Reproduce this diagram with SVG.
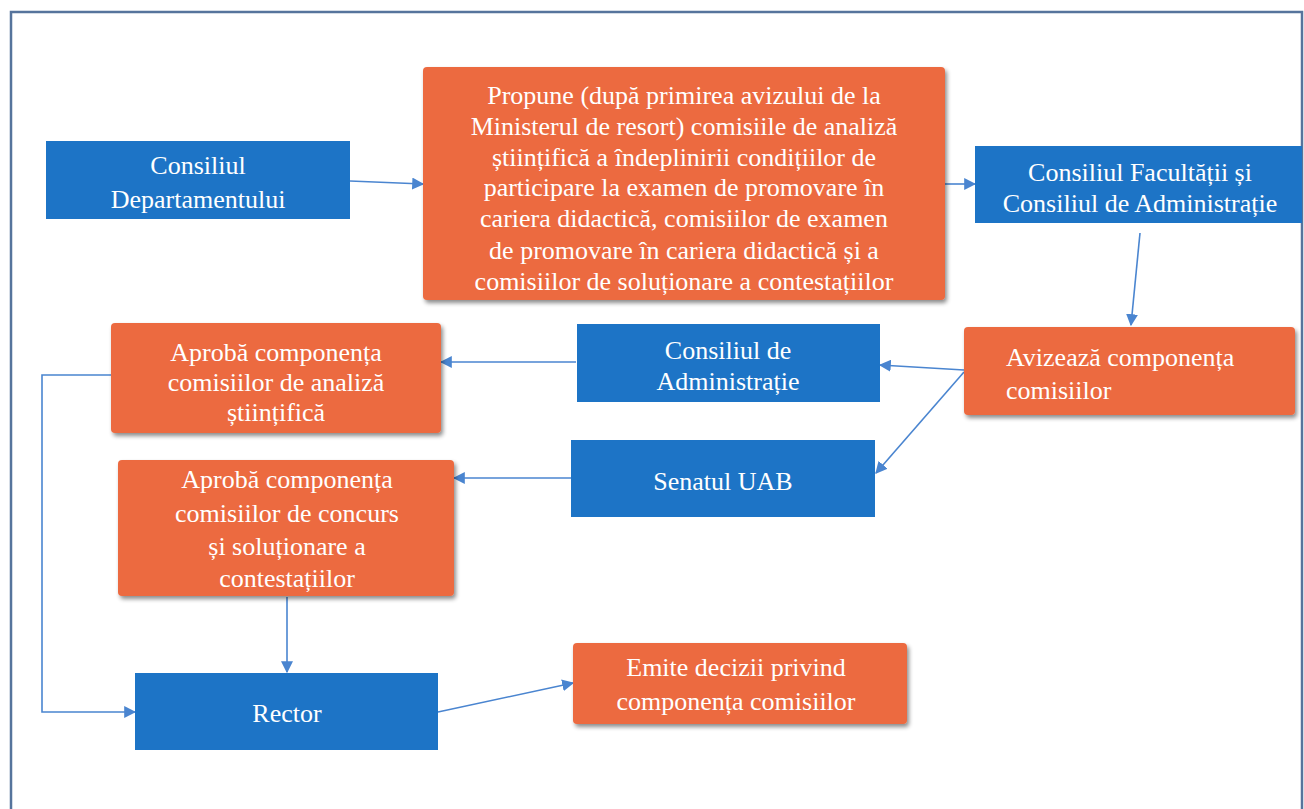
<svg xmlns="http://www.w3.org/2000/svg" width="1304" height="809" viewBox="0 0 1304 809">
<style>
.blue{fill:#1d74c6;}
.orange{fill:#ec6a3f;filter:url(#sh);}
text{font-family:"Liberation Serif","Times New Roman",serif;font-size:26px;fill:#ffffff;}
.c{text-anchor:middle;}
.conn{stroke:#4a85d0;stroke-width:1.6;fill:none;marker-end:url(#ah);}
</style>
<defs>
<filter id="sh" x="-10%" y="-10%" width="120%" height="130%">
<feDropShadow dx="2" dy="3" stdDeviation="2" flood-color="#000" flood-opacity="0.45"/>
</filter>
<marker id="ah" viewBox="0 0 10 10" refX="9" refY="5" markerWidth="12" markerHeight="12" markerUnits="userSpaceOnUse" orient="auto">
<path d="M0,0 L10,5 L0,10 z" fill="#4a85d0"/>
</marker>
</defs>
<rect x="0" y="0" width="1304" height="809" fill="#ffffff"/>
<rect x="11" y="12" width="1291" height="820" fill="none" stroke="#56749c" stroke-width="2.5"/>

<g id="connectors">
<line class="conn" x1="350" y1="181" x2="423" y2="184"/>
<line class="conn" x1="945" y1="184" x2="975" y2="184"/>
<line class="conn" x1="1140" y1="233" x2="1131" y2="325"/>
<line class="conn" x1="964" y1="370" x2="880" y2="365"/>
<line class="conn" x1="964" y1="372" x2="876" y2="473"/>
<line class="conn" x1="576" y1="362" x2="441" y2="362"/>
<line class="conn" x1="571" y1="478" x2="454" y2="478"/>
<line class="conn" x1="287" y1="597" x2="287" y2="672"/>
<polyline class="conn" points="111,375 42,375 42,712 135,712"/>
<line class="conn" x1="438" y1="712" x2="573" y2="683"/>
</g>

<g id="consiliul-departamentului">
<rect class="blue" x="46" y="141" width="304" height="78"/>
<text class="c" x="198" y="174">Consiliul</text>
<text class="c" x="198" y="208">Departamentului</text>
</g>

<g id="propune">
<rect class="orange" x="423" y="67" width="522" height="233" rx="4"/>
<text class="c" x="684" y="104">Propune (după primirea avizului de la</text>
<text class="c" x="684" y="135">Ministerul de resort) comisiile de analiză</text>
<text class="c" x="684" y="166">științifică a îndeplinirii condițiilor de</text>
<text class="c" x="684" y="196">participare la examen de promovare în</text>
<text class="c" x="684" y="227">cariera didactică, comisiilor de examen</text>
<text class="c" x="684" y="259">de promovare în cariera didactică și a</text>
<text class="c" x="684" y="290">comisiilor de soluționare a contestațiilor</text>
</g>

<g id="consiliul-facultatii">
<rect class="blue" x="975" y="146" width="327" height="77"/>
<text class="c" x="1140" y="181">Consiliul Facultății și</text>
<text class="c" x="1140" y="212">Consiliul de Administrație</text>
</g>

<g id="avizeaza">
<rect class="orange" x="964" y="327" width="331" height="88" rx="4"/>
<text x="1006" y="366">Avizează componența</text>
<text x="1006" y="399">comisiilor</text>
</g>

<g id="consiliul-de-administratie">
<rect class="blue" x="577" y="324" width="303" height="78"/>
<text class="c" x="728" y="359">Consiliul de</text>
<text class="c" x="728" y="390">Administrație</text>
</g>

<g id="senatul">
<rect class="blue" x="571" y="440" width="304" height="77"/>
<text class="c" x="723" y="490">Senatul UAB</text>
</g>

<g id="aproba-analiza">
<rect class="orange" x="111" y="323" width="330" height="110" rx="4"/>
<text class="c" x="276" y="361">Aprobă componența</text>
<text class="c" x="276" y="391">comisiilor de analiză</text>
<text class="c" x="276" y="421">științifică</text>
</g>

<g id="aproba-concurs">
<rect class="orange" x="118" y="460" width="336" height="136" rx="4"/>
<text class="c" x="287" y="488">Aprobă componența</text>
<text class="c" x="287" y="522">comisiilor de concurs</text>
<text class="c" x="287" y="555">și soluționare a</text>
<text class="c" x="287" y="587">contestațiilor</text>
</g>

<g id="rector">
<rect class="blue" x="135" y="673" width="303" height="77"/>
<text class="c" x="287" y="722">Rector</text>
</g>

<g id="emite">
<rect class="orange" x="573" y="643" width="334" height="81" rx="4"/>
<text class="c" x="736" y="676">Emite decizii privind</text>
<text class="c" x="736" y="710">componența comisiilor</text>
</g>
</svg>
